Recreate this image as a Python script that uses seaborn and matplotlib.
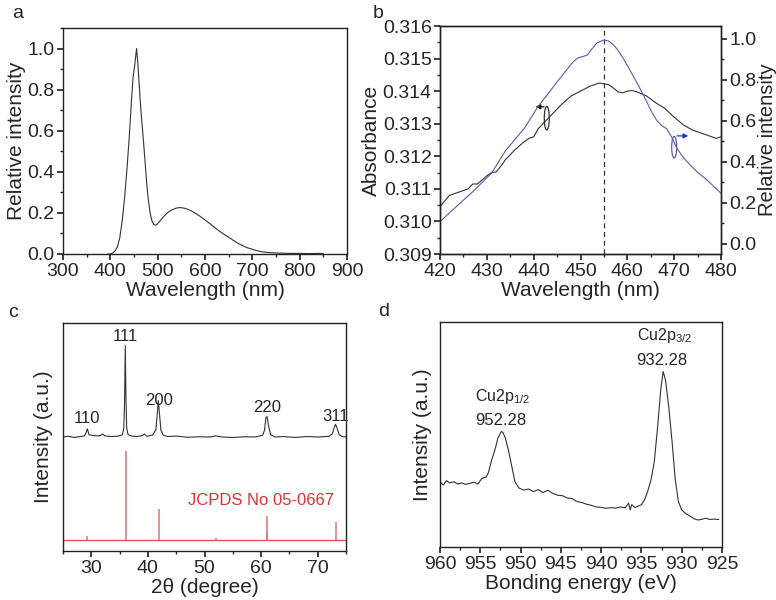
import numpy as np
import seaborn as sns
import matplotlib.pyplot as plt
from matplotlib.patches import Ellipse
from matplotlib.ticker import MultipleLocator

# ---- data ----
# a: emission spectrum
pl_wl = [395, 400, 405, 410, 415, 420, 425, 430, 435, 440, 445, 448, 451, 453, 455.5, 458,
         460, 463, 466, 470, 473, 477, 480, 484, 488, 492, 496, 500, 510, 520, 530, 540, 548,
         560, 570, 580, 590, 600, 610, 620, 630, 640, 650, 660, 670, 680, 690, 700, 710, 720,
         730, 740, 750, 760, 780, 800, 820, 840, 850]
pl_int = [0, 0, 0.005, 0.015, 0.035, 0.08, 0.16, 0.27, 0.41, 0.57, 0.76, 0.86, 0.91, 0.95, 1.0, 0.93,
          0.86, 0.75, 0.66, 0.55, 0.46, 0.34, 0.27, 0.2, 0.16, 0.143, 0.14, 0.148, 0.175, 0.2, 0.215, 0.224, 0.226,
          0.221, 0.211, 0.198, 0.183, 0.166, 0.148, 0.13, 0.112, 0.096, 0.082, 0.066, 0.052, 0.04, 0.03, 0.023, 0.016, 0.011,
          0.008, 0.006, 0.005, 0.004, 0.003, 0.003, 0.002, 0.003, 0.002]

# b: absorbance (left) and emission (right)
abs_wl = [420, 422, 424, 426, 427, 428, 430, 431, 432, 433, 434, 436, 438, 439, 440, 441, 442, 444,
          446, 448, 450, 452, 454, 456, 457, 458, 459, 460, 461, 462, 464, 466, 468, 470, 472, 474,
          476, 478, 479, 480]
abs_val = [0.31045, 0.3108, 0.3109, 0.3110, 0.31115, 0.31115, 0.3114, 0.3115, 0.31152, 0.3117, 0.3119,
           0.3122, 0.31245, 0.31255, 0.3126, 0.31285, 0.3130, 0.3133, 0.3136, 0.31385, 0.3140, 0.31415,
           0.31425, 0.3142, 0.3141, 0.31398, 0.31395, 0.3140, 0.31402, 0.31398, 0.31386, 0.31365, 0.31347,
           0.3132, 0.31296, 0.3128, 0.3127, 0.3126, 0.31255, 0.3126]
em_wl = [420, 423, 427, 431, 434, 438, 441, 445, 447, 448.5, 449.5, 450.5, 451.5, 452.2, 453.5, 455,
         456, 457, 458, 459, 460.5, 462.3, 464, 465.3, 466.3, 467.3, 468.4, 469.5, 470.5, 472, 473.4,
         475, 477, 478.5, 480]
em_val = [0.109, 0.172, 0.255, 0.345, 0.455, 0.564, 0.672, 0.79, 0.848, 0.89, 0.908, 0.914, 0.922,
          0.945, 0.98, 0.995, 0.99, 0.972, 0.945, 0.91, 0.85, 0.776, 0.7, 0.64, 0.602, 0.578, 0.562,
          0.52, 0.47, 0.42, 0.385, 0.35, 0.312, 0.28, 0.247]

# c: XRD pattern and reference sticks
xrd_2t = [25, 26, 27, 28, 28.8, 29.1, 29.3, 29.6, 30.5, 31.5, 32.0, 32.4, 33.5, 34.8, 35.5, 35.75, 35.88,
          36.0, 36.12, 36.25, 36.5, 37.0, 38.0, 39.0, 39.4, 39.8, 40.8, 41.4, 41.65, 41.85, 42.05, 42.3, 42.7,
          43.5, 45, 47, 49, 51, 52, 53, 55, 57, 59, 60.3, 60.6, 60.85, 61.05, 61.3, 61.7, 62.5, 64, 66, 68,
          70, 72, 72.6, 72.9, 73.15, 73.4, 73.8, 74.3, 75]
xrd_int = [50, 50.3, 49.8, 50.2, 50.5, 52.0, 53.6, 51, 50.6, 50.5, 51.3, 50.5, 50.2, 50.4, 51.0, 54, 66,
           90, 68, 54, 51, 50.5, 50.2, 50.6, 51.3, 50.3, 50.8, 53, 60, 66, 60, 53, 50.8,
           50.2, 50.4, 49.9, 50.1, 50, 50.5, 50, 49.8, 50.1, 50, 50.8, 53, 58.5, 59, 55, 51, 50, 50.2, 49.8, 50.2,
           50, 50.3, 51.5, 54, 55.6, 54, 51, 50.2, 50]
ref_2t = [29.3, 36.1, 42.0, 52.0, 61.0, 61.1, 73.2]
ref_int = [6.6, 44, 18.4, 5.6, 15.4, 8.5, 12.9]
ref_base = 4.8
hkl_labels = ['110', '111', '200', '220', '311']
hkl_pos = [29.3, 36.1, 42.0, 61.0, 73.2]
hkl_y = [58, 94, 66, 63, 59]

# d: XPS Cu 2p
be = [960, 959.6, 959.2, 958.8, 958.3, 957.8, 957.3, 956.8, 956.3, 955.8, 955.3, 954.8, 954.3, 954.0,
      953.6, 953.2, 952.8, 952.4, 952.2, 951.9, 951.5, 951.1, 950.7, 950.2, 949.6, 949.0, 948.4, 947.8,
      947.2, 946.6, 946.0, 945.4, 944.8, 944.2, 943.6, 943.0, 942.4, 941.8, 941.2, 940.6, 940.0, 939.4,
      938.8, 938.2, 937.6, 937.0, 936.6, 936.4, 936.2, 935.8, 935.4, 935.0, 934.6, 934.2, 933.8, 933.4,
      933.0, 932.6, 932.3, 932.0, 931.6, 931.2, 930.8, 930.4, 930.0, 929.5, 929.0, 928.5, 928.0, 927.5,
      927.0, 926.5, 926.0, 925.4]
xps = [29, 27.5, 29.5, 28.5, 29, 28, 28.5, 27.8, 28.3, 28.8, 28, 30.5, 31, 33, 38.5, 43, 48.5, 51.3, 51,
       48.5, 43, 36, 29, 26.2, 25.3, 25.8, 24.6, 25.5, 24.2, 25.2, 23.8, 23, 22.8, 21.8, 21.5, 20.2, 19.8,
       19, 18.5, 17.8, 17.6, 17.2, 17.5, 17.3, 17.8, 17.4, 19.5, 16.5, 18.8, 17.5, 18.2, 18.8, 21, 25, 30,
       38, 53, 70, 78, 74, 62, 47, 30, 20, 16.5, 14.8, 13.8, 12.6, 12, 12.3, 12.8, 12.2, 12.4, 12.2]

# ---- style ----
sns.set_theme(style="ticks")
plt.rcParams['font.family'] = ['Liberation Sans', 'DejaVu Sans']
plt.rcParams['mathtext.fontset'] = 'custom'
plt.rcParams['mathtext.rm'] = 'Liberation Sans'
plt.rcParams['xtick.labelsize'] = 14
plt.rcParams['ytick.labelsize'] = 14
plt.rcParams['axes.labelsize'] = 15
plt.rcParams['axes.linewidth'] = 1.0
plt.rcParams['axes.edgecolor'] = '#222222'
plt.rcParams['xtick.major.size'] = 4
plt.rcParams['ytick.major.size'] = 4
plt.rcParams['xtick.minor.size'] = 2.5
plt.rcParams['ytick.minor.size'] = 2.5
plt.rcParams['ytick.major.pad'] = 2
plt.rcParams['xtick.major.pad'] = 2.5

fig = plt.figure(figsize=(7.76, 6.0), dpi=100)
W, H = 776, 600


def box(l, t, r, b):
    return [l / W, 1 - b / H, (r - l) / W, (b - t) / H]


line_c = '#333333'
blue_c = '#5b5bb0'

# ---- a ----
ax = fig.add_axes(box(63, 28, 347, 254))
sns.lineplot(x=pl_wl, y=pl_int, ax=ax, color=line_c, lw=0.8)
ax.set_xlim(300, 900)
ax.set_ylim(0, 1.1)
ax.xaxis.set_major_locator(MultipleLocator(100))
ax.xaxis.set_minor_locator(MultipleLocator(50))
ax.yaxis.set_major_locator(MultipleLocator(0.2))
ax.yaxis.set_minor_locator(MultipleLocator(0.1))
ax.set_xlabel('Wavelength (nm)', labelpad=1)
ax.set_ylabel('Relative intensity', labelpad=1)

# ---- b ----
ax = fig.add_axes(box(440, 26, 721, 254))
sns.lineplot(x=abs_wl, y=abs_val, ax=ax, color=line_c, lw=0.8)
ax.set_xlim(420, 480)
ax.set_ylim(0.309, 0.316)
ax.xaxis.set_major_locator(MultipleLocator(10))
ax.xaxis.set_minor_locator(MultipleLocator(5))
ax.yaxis.set_major_locator(MultipleLocator(0.001))
ax.yaxis.set_minor_locator(MultipleLocator(0.0005))
ax.yaxis.set_major_formatter(plt.FormatStrFormatter('%.3f'))
ax.set_xlabel('Wavelength (nm)', labelpad=1)
ax.set_ylabel('Absorbance', labelpad=1)
ax.axvline(455, color='#333333', ls=(0, (4, 3)), lw=0.9)
ax.add_patch(Ellipse((442.8, 0.31317), 1.07, 0.00072, fill=False, ec=line_c, lw=0.9))
ax.annotate('', xy=(439.8, 0.31352), xytext=(442.8, 0.31352),
            arrowprops=dict(arrowstyle='-|>', color='#111111', lw=0.9, mutation_scale=7))
ax2 = ax.twinx()
sns.lineplot(x=em_wl, y=em_val, ax=ax2, color=blue_c, lw=0.8)
ax2.set_ylim(-0.049, 1.063)
ax2.yaxis.set_major_locator(MultipleLocator(0.2))
ax2.yaxis.set_minor_locator(MultipleLocator(0.1))
ax2.set_ylabel('Relative intensity', labelpad=1, fontsize=14.5)
ax2.add_patch(Ellipse((470.0, 0.472), 1.07, 0.105, fill=False, ec=blue_c, lw=0.9))
ax2.annotate('', xy=(473.6, 0.527), xytext=(470.0, 0.527),
             arrowprops=dict(arrowstyle='-|>', color='#2233cc', lw=0.9, mutation_scale=7))

# ---- c ----
ax = fig.add_axes(box(63, 323, 346, 551))
sns.lineplot(x=xrd_2t, y=xrd_int, ax=ax, color=line_c, lw=0.8)
ax.vlines(ref_2t, ref_base, ref_int, color='#d98080', lw=1.2)
ax.axhline(ref_base, color='#dd5555', lw=1.0)
ax.set_xlim(25, 75)
ax.set_ylim(0, 100)
ax.set_yticks([])
ax.xaxis.set_major_locator(MultipleLocator(10))
ax.xaxis.set_minor_locator(MultipleLocator(5))
for lab, xp, yp in zip(hkl_labels, hkl_pos, hkl_y):
    ax.text(xp, yp, lab, ha='center', va='center', fontsize=12)
ax.text(72.8, 22, 'JCPDS No 05-0667', ha='right', va='center', fontsize=12, color='#e03030')
ax.set_xlabel('2θ (degree)', labelpad=1)
ax.set_ylabel('Intensity (a.u.)', labelpad=7)

# ---- d ----
ax = fig.add_axes(box(440, 322, 722, 547))
sns.lineplot(x=be, y=xps, ax=ax, color=line_c, lw=0.8)
ax.set_xlim(960, 925)
ax.set_ylim(0, 100)
ax.set_yticks([])
ax.xaxis.set_major_locator(MultipleLocator(5))
ax.xaxis.set_minor_locator(MultipleLocator(2.5))
ax.text(955.6, 66.8, r'Cu2p$_{1/2}$', ha='left', va='center', fontsize=11.5)
ax.text(955.6, 56.4, '952.28', ha='left', va='center', fontsize=12)
ax.text(935.6, 94.2, r'Cu2p$_{3/2}$', ha='left', va='center', fontsize=11.5)
ax.text(935.6, 83.1, '932.28', ha='left', va='center', fontsize=12)
ax.set_xlabel('Bonding energy (eV)', labelpad=1)
ax.set_ylabel('Intensity (a.u.)', labelpad=6)

# panel letters
for lab, xp, yp in [('a', 18, 14), ('b', 378, 14), ('c', 13, 313), ('d', 384, 311)]:
    fig.text(xp / W, 1 - yp / H, lab, ha='center', va='center', fontsize=14)

fig.savefig('out.png', dpi=100)
